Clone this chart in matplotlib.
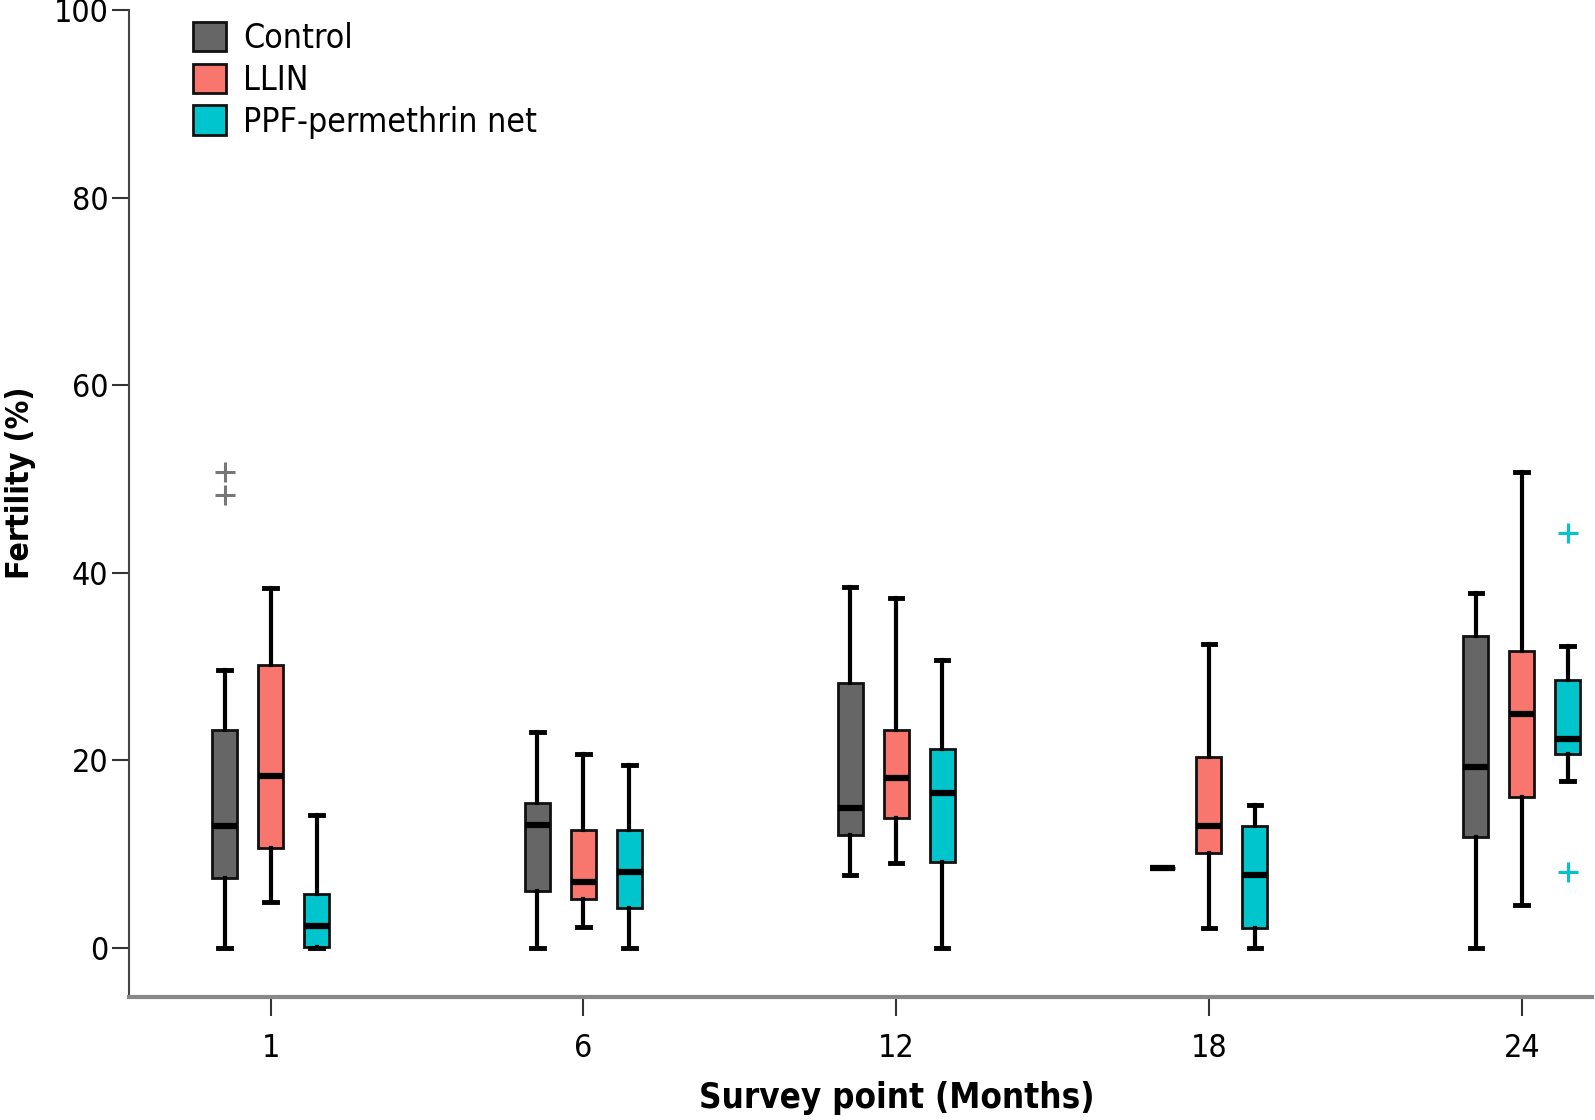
import matplotlib
matplotlib.use('Agg')
import matplotlib.pyplot as plt
from matplotlib.patches import Patch

plt.rcParams['font.family'] = ['DejaVu Sans']
plt.rcParams['font.stretch'] = 'condensed'

# survey points and groups
months = ['1', '6', '12', '18', '24']
groups = ['Control', 'LLIN', 'PPF-permethrin net']
colors = ['#666666', '#F8766D', '#00C5CD']

# box stats, one list per group (order: month 1, 6, 12, 18, 24)
control_whislo = [0.0, 0.0, 7.8, 8.5, 0.0]
control_q1 = [7.5, 6.1, 12.0, 8.5, 11.8]
control_med = [13.0, 13.1, 14.9, 8.5, 19.3]
control_q3 = [23.2, 15.5, 28.3, 8.5, 33.3]
control_whishi = [29.6, 23.0, 38.5, 8.5, 37.8]
control_fliers = [[50.8, 48.3], [], [], [], []]

llin_whislo = [4.9, 2.2, 9.1, 2.1, 4.6]
llin_q1 = [10.7, 5.2, 13.9, 10.1, 16.1]
llin_med = [18.3, 7.0, 18.1, 13.0, 25.0]
llin_q3 = [30.2, 12.6, 23.2, 20.4, 31.7]
llin_whishi = [38.4, 20.7, 37.3, 32.4, 50.7]
llin_fliers = [[], [], [], [], []]

ppf_whislo = [0.0, 0.0, 0.0, 0.0, 17.8]
ppf_q1 = [0.1, 4.3, 9.2, 2.1, 20.7]
ppf_med = [2.4, 8.1, 16.5, 7.8, 22.3]
ppf_q3 = [5.8, 12.6, 21.2, 13.0, 28.6]
ppf_whishi = [14.2, 19.5, 30.7, 15.3, 32.2]
ppf_fliers = [[], [], [], [], [44.3, 8.1]]

all_stats = [
    (control_whislo, control_q1, control_med, control_q3, control_whishi, control_fliers),
    (llin_whislo, llin_q1, llin_med, llin_q3, llin_whishi, llin_fliers),
    (ppf_whislo, ppf_q1, ppf_med, ppf_q3, ppf_whishi, ppf_fliers),
]

fig = plt.figure(figsize=(15.95, 11.2), dpi=100)
ax = fig.add_axes([0.081, 0.110, 0.917, 0.881])

offset = 0.147
for g, (lo, q1, med, q3, hi, fl) in enumerate(all_stats):
    stats = []
    for i in range(len(months)):
        stats.append({'whislo': lo[i], 'q1': q1[i], 'med': med[i], 'q3': q3[i],
                      'whishi': hi[i], 'fliers': fl[i]})
    pos = [i + (g - 1) * offset for i in range(len(months))]
    flier_col = '#777777' if g == 0 else colors[g]
    ax.bxp(stats, positions=pos, widths=0.08, patch_artist=True, manage_ticks=False,
           boxprops=dict(facecolor=colors[g], edgecolor='#111111', linewidth=2),
           medianprops=dict(color='black', linewidth=4.5, solid_capstyle='butt'),
           whiskerprops=dict(color='black', linewidth=3),
           capprops=dict(color='black', linewidth=3.5),
           flierprops=dict(marker='P', markersize=0, linestyle='none'))
    # outliers drawn as plus signs
    for i in range(len(months)):
        if fl[i]:
            ax.plot([pos[i]] * len(fl[i]), fl[i], linestyle='none', marker='+',
                    markersize=14, markeredgewidth=2.2, color=flier_col)

ax.set_xlim(-0.452, 4.224)
ax.set_ylim(-5.2, 100)
ax.set_xticks(range(len(months)))
ax.set_xticklabels(months)
ax.set_yticks([0, 20, 40, 60, 80, 100])
ax.tick_params(axis='both', labelsize=23, length=12, width=1.5, color='#333333', pad=3)
ax.tick_params(axis='x', length=14, pad=12)

ax.spines['top'].set_visible(False)
ax.spines['right'].set_visible(False)
ax.spines['left'].set_color('#444444')
ax.spines['bottom'].set_color('#888888')
ax.spines['left'].set_linewidth(1.5)
ax.spines['bottom'].set_linewidth(3)

ax.set_ylabel('Fertility (%)', fontsize=23, fontweight='bold')
ax.yaxis.set_label_coords(-0.0745, 0.521)
ax.yaxis.label.set_va('center')
ax.set_xlabel('Survey point (Months)', fontsize=25, fontweight='bold')
ax.xaxis.set_label_coords(0.525, -0.103)
ax.xaxis.label.set_va('center')

handles = [Patch(facecolor=c, edgecolor='#111111', linewidth=2, label=l) for c, l in zip(colors, groups)]
ax.legend(handles=handles, loc='upper left', bbox_to_anchor=(0.023, 1.019), frameon=False,
          fontsize=24.3, handlelength=0.97, handleheight=0.97, handletextpad=0.5, labelspacing=0.25)

fig.savefig('out.png', dpi=100)
